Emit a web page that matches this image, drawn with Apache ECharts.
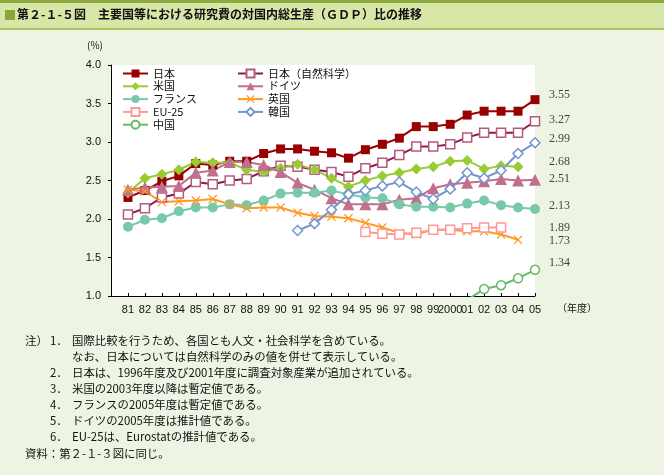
<!DOCTYPE html>
<html><head><meta charset="utf-8">
<script src="https://cdn.jsdelivr.net/npm/echarts@6/dist/echarts.min.js"></script>
<style>html,body{margin:0;padding:0;background:#eef4e3;}#c{width:664px;height:475px;}</style>
</head><body><div id="c"></div>
<script>
// ---- data ----
const categories = ['', '81','82','83','84','85','86','87','88','89','90','91','92','93','94','95','96','97','98','99','2000','01','02','03','04','05'];
const yTicks = [1.0, 1.5, 2.0, 2.5, 3.0, 3.5, 4.0];
const japan   = [null, 2.28,2.37,2.49,2.56,2.72,2.70,2.75,2.75,2.85,2.91,2.91,2.88,2.86,2.79,2.90,2.97,3.05,3.20,3.20,3.23,3.35,3.40,3.40,3.40,3.55];
const japanNS = [null, 2.06,2.14,2.28,2.33,2.48,2.45,2.50,2.52,2.62,2.69,2.68,2.64,2.61,2.55,2.66,2.73,2.83,2.94,2.94,2.97,3.06,3.12,3.12,3.12,3.27];
const usa     = [null, 2.34,2.53,2.58,2.64,2.74,2.73,2.73,2.64,2.61,2.66,2.71,2.64,2.53,2.42,2.50,2.56,2.60,2.65,2.68,2.75,2.76,2.65,2.69,2.68,null];
const germany = [null, 2.38,2.41,2.42,2.43,2.60,2.63,2.74,2.74,2.70,2.61,2.47,2.38,2.27,2.19,2.19,2.19,2.25,2.27,2.40,2.45,2.47,2.49,2.52,2.50,2.51];
const france  = [null, 1.90,1.99,2.01,2.10,2.15,2.15,2.19,2.18,2.24,2.33,2.34,2.34,2.37,2.32,2.28,2.27,2.19,2.16,2.16,2.15,2.20,2.24,2.18,2.15,2.13];
const uk      = [null, 2.38,2.36,2.22,2.23,2.24,2.26,2.19,2.14,2.15,2.15,2.08,2.04,2.03,2.01,1.95,1.89,1.82,1.80,1.86,1.86,1.84,1.84,1.80,1.73,null];
const eu25    = [null, null,null,null,null,null,null,null,null,null,null,null,null,null,null,1.83,1.81,1.80,1.82,1.86,1.86,1.88,1.89,1.89,null,null];
const korea   = [null, null,null,null,null,null,null,null,null,null,null,1.85,1.94,2.12,2.32,2.37,2.43,2.48,2.35,2.26,2.39,2.60,2.53,2.63,2.85,2.99];
const china   = [null, null,null,null,null,null,null,null,null,null,null,null,null,null,null,null,null,null,null,null,0.90,0.95,1.09,1.14,1.23,1.34];
const endValues = [3.55, 3.27, 2.99, 2.68, 2.51, 2.13, 1.89, 1.73, 1.34];
const names = ['日本','日本（自然科学）','米国','ドイツ','フランス','英国','EU-25','韓国','中国'];
const titleText = '第２-１-５図　主要国等における研究費の対国内総生産（ＧＤＰ）比の推移';
const notes = [
  ['注）', '1．', '国際比較を行うため、各国とも人文・社会科学を含めている。'],
  ['', '', 'なお、日本については自然科学のみの値を併せて表示している。'],
  ['', '2．', '日本は、1996年度及び2001年度に調査対象産業が追加されている。'],
  ['', '3．', '米国の2003年度以降は暫定値である。'],
  ['', '4．', 'フランスの2005年度は暫定値である。'],
  ['', '5．', 'ドイツの2005年度は推計値である。'],
  ['', '6．', 'EU-25は、Eurostatの推計値である。'],
  ['資料：第２-１-３図に同じ。', '', '']
];

// ---- styles ----
const labelOffsets = [-5, -1, -4, -5, -1, -3, 0, 1, -7];
const FONT = '"Noto Sans CJK JP", "Noto Sans", sans-serif';
const XSYM = 'path://M0,1L1,0L5,4L9,0L10,1L6,5L10,9L9,10L5,6L1,10L0,9L4,5Z';

function mk(name, data, symbol, size, lineColor, fill, border, bw) {
  return {
    name: name, type: 'line', data: data, symbol: symbol, symbolSize: size,
    showSymbol: true, connectNulls: false, clip: true, animation: false,
    lineStyle: { color: lineColor, width: 2 },
    itemStyle: { color: fill, borderColor: border, borderWidth: bw || 0 },
    emphasis: { disabled: true }
  };
}

const series = [
  mk(names[0], japan,   'rect',     9, '#990000', '#990000', '#990000', 0),
  mk(names[1], japanNS, 'rect',     9, '#8e1a4e', '#ffffff', '#b45a80', 1.5),
  mk(names[2], usa,     'diamond', 11, '#99cc33', '#99cc33', '#99cc33', 0),
  mk(names[3], germany, 'triangle',12, '#c06f8c', '#c06f8c', '#c06f8c', 0),
  mk(names[4], france,  'circle',  10, '#77c9a9', '#77c9a9', '#77c9a9', 0),
  mk(names[5], uk,      XSYM,       9, '#ff9922', '#ff9922', '#ff9922', 0),
  mk(names[6], eu25,    'rect',     9, '#ff9999', '#ffffff', '#ff9999', 1.5),
  mk(names[7], korea,   'diamond', 10, '#7394cc', '#ffffff', '#7394cc', 1.5),
  mk(names[8], china,   'circle',   9, '#66bb66', '#ffffff', '#66bb66', 1.5)
];

series.push({
  type: 'scatter', name: 'endLabels', symbolSize: 0, animation: false, silent: true,
  data: endValues.map((v, i) => ({
    value: ['05', v],
    label: { offset: [0, labelOffsets[i]] }
  })),
  label: {
    show: true, position: 'right', distance: 14,
    formatter: p => p.value[1].toFixed(2),
    fontFamily: '"Liberation Serif", "DejaVu Serif", serif', fontSize: 12, color: '#111'
  }
});

const graphic = [
  { type: 'rect', shape: { x: 0, y: 0, width: 664, height: 30 }, style: { fill: '#d8e6a8' }, silent: true },
  { type: 'rect', shape: { x: 0, y: 0, width: 664, height: 3 }, style: { fill: '#8daa3c' }, silent: true },
  { type: 'rect', shape: { x: 0, y: 28, width: 664, height: 2 }, style: { fill: '#a9c45e' }, silent: true },
  { type: 'rect', shape: { x: 5, y: 10, width: 10, height: 10 }, style: { fill: '#86a83c' }, silent: true },
  { type: 'text', left: 17, top: 8, style: { text: titleText, font: 'bold 12px ' + FONT, fill: '#111' }, silent: true },
  { type: 'text', left: 87, top: 40, style: { text: '(%)', font: '10px ' + FONT, fill: '#111' }, silent: true },
  { type: 'text', left: 557, top: 303, style: { text: '（年度）', font: '10px ' + FONT, fill: '#111' }, silent: true }
];
const noteY = [335, 351, 367, 383, 399, 415, 431, 448];
notes.forEach((n, i) => {
  if (n[0]) graphic.push({ type: 'text', left: 25, top: noteY[i], style: { text: n[0], font: '11.4px ' + FONT, fill: '#111' }, silent: true });
  if (n[1]) graphic.push({ type: 'text', left: 50, top: noteY[i], style: { text: n[1], font: '11.4px ' + FONT, fill: '#111' }, silent: true });
  if (n[2]) graphic.push({ type: 'text', left: 72, top: noteY[i], style: { text: n[2], font: '11.4px ' + FONT, fill: '#111' }, silent: true });
});

const legendCommon = {
  orient: 'vertical', itemWidth: 25, itemHeight: 10, itemGap: 1.8, padding: 0,
  textStyle: { fontFamily: FONT, fontSize: 11, color: '#111' },
  selectedMode: false, inactiveColor: '#111'
};

const chart = echarts.init(document.getElementById('c'), null, { renderer: 'canvas' });
chart.setOption({
  backgroundColor: '#eef4e3',
  animation: false,
  textStyle: { fontFamily: FONT },
  grid: { left: 111, right: 129, top: 65, bottom: 179, show: true, backgroundColor: '#ffffff', borderWidth: 0, containLabel: false },
  legend: [
    Object.assign({ left: 122, top: 68, data: [names[0], names[2], names[4], names[6], names[8]] }, legendCommon),
    Object.assign({ left: 237, top: 68, data: [names[1], names[3], names[5], names[7]] }, legendCommon)
  ],
  xAxis: {
    type: 'category', data: categories, boundaryGap: false,
    axisLine: { lineStyle: { color: '#000', width: 1 } },
    axisTick: { show: true, inside: true, length: 3, interval: 0, lineStyle: { color: '#000' } },
    axisLabel: { interval: 0, fontSize: 11, color: '#111', margin: 8, fontFamily: '"Liberation Sans", Arial, sans-serif' },
    splitLine: { show: false }
  },
  yAxis: {
    type: 'value', min: yTicks[0], max: yTicks[yTicks.length - 1], interval: 0.5,
    axisLine: { show: true, lineStyle: { color: '#000', width: 1 } },
    axisTick: { show: true, inside: false, length: 3, lineStyle: { color: '#000' } },
    axisLabel: { fontSize: 11, color: '#111', margin: 10, formatter: v => v.toFixed(1), fontFamily: '"Liberation Sans", Arial, sans-serif' },
    splitLine: { show: false }
  },
  graphic: graphic,
  series: series
});
</script>
</body></html>
